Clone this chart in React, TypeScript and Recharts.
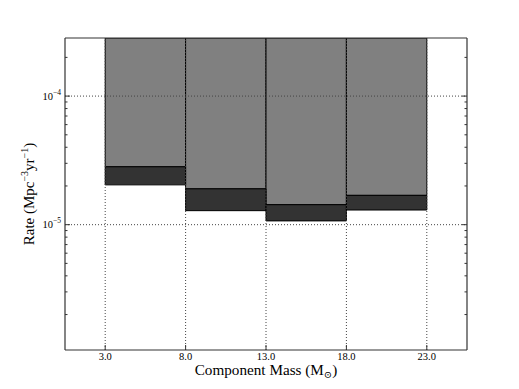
import React from 'react';
import { ComposedChart, XAxis, YAxis, ReferenceArea, ReferenceLine } from 'recharts';

// Bin edges (component mass, solar masses)
const binEdges = [3, 8, 13, 18, 23];
// Rate upper-limit bands: gray band lower boundary and dark band lower boundary (Mpc^-3 yr^-1)
const grayLower = [2.82e-5, 1.9e-5, 1.43e-5, 1.69e-5];
const darkLower = [2.04e-5, 1.285e-5, 1.07e-5, 1.3e-5];

const xTicks = [3, 8, 13, 18, 23];
const yMajorTicks = [1e-5, 1e-4];
const yMinorTicks = [
  2e-6, 3e-6, 4e-6, 5e-6, 6e-6, 7e-6, 8e-6, 9e-6,
  2e-5, 3e-5, 4e-5, 5e-5, 6e-5, 7e-5, 8e-5, 9e-5,
  2e-4,
];
const yDomain = [1.06e-6, 2.83e-4];
const xDomain = [0.5, 25.5];

const FONT = '"Liberation Serif", "DejaVu Serif", serif';
const AX = '#333';

const bins = grayLower.map((g, i) => ({
  lo: binEdges[i],
  hi: binEdges[i + 1],
  gray: g,
  dark: darkLower[i],
  mid: (binEdges[i] + binEdges[i + 1]) / 2,
}));

const yAllTicks = [...yMinorTicks, ...yMajorTicks].sort((a, b) => a - b);
const isMajor = (v: number) => yMajorTicks.some((m) => Math.abs(m - v) / m < 1e-6);

const LeftTick = (props: any) => {
  const { x, y, payload } = props;
  const v = payload.value as number;
  const major = isMajor(v);
  const exp = Math.round(Math.log10(v));
  return (
    <g>
      <line x1={x} x2={x + (major ? 5 : 2.5)} y1={y} y2={y} stroke={AX} strokeWidth={1} />
      {major && (
        <text x={x - 4} y={y + 3.5} textAnchor="end" fontFamily={FONT} fontSize={10.5} fill="#000">
          <tspan>10</tspan>
          <tspan dy={-5} fontSize={7.5}>{`\u2212${Math.abs(exp)}`}</tspan>
        </text>
      )}
    </g>
  );
};

const RightTick = (props: any) => {
  const { x, y, payload } = props;
  const v = payload.value as number;
  const major = isMajor(v);
  return <line x1={x} x2={x - (major ? 5 : 2.5)} y1={y} y2={y} stroke={AX} strokeWidth={1} />;
};

const BottomTick = (props: any) => {
  const { x, y, payload } = props;
  return (
    <g>
      <line x1={x} x2={x} y1={y} y2={y - 5} stroke={AX} strokeWidth={1} />
      <text x={x} y={y + 9.5} textAnchor="middle" fontFamily={FONT} fontSize={10.5} fill="#000">
        {Number(payload.value).toFixed(1)}
      </text>
    </g>
  );
};

const XLabel = (props: any) => {
  const { x, y, width } = props.viewBox;
  return (
    <text x={x + width / 2} y={y + 25} textAnchor="middle" fontFamily={FONT} fontSize={15.2} fill="#000">
      <tspan>Component Mass (M</tspan>
      <tspan dy={3} fontSize={10}>{'\u2299'}</tspan>
      <tspan dy={-3}>)</tspan>
    </text>
  );
};

const YLabel = (props: any) => {
  const { y, height } = props.viewBox;
  const cx = 34;
  const cy = y + height / 2;
  return (
    <text
      x={cx}
      y={cy}
      textAnchor="middle"
      transform={`rotate(-90, ${cx}, ${cy})`}
      fontFamily={FONT}
      fontSize={15}
      fill="#000"
    >
      <tspan>Rate (Mpc</tspan>
      <tspan dy={-6} fontSize={10}>{'\u22123'}</tspan>
      <tspan dy={6}>yr</tspan>
      <tspan dy={-6} fontSize={10}>{'\u22121'}</tspan>
      <tspan dy={6}>)</tspan>
    </text>
  );
};

export default function App() {
  return (
    <div style={{ position: 'absolute', left: 0, top: 0, background: '#fff' }}>
      <ComposedChart
        width={519}
        height={389}
        data={bins}
        margin={{ top: 38, right: 51, bottom: 0, left: 0 }}
      >
        <XAxis
          xAxisId="x"
          dataKey="mid"
          type="number"
          domain={xDomain}
          allowDataOverflow
          ticks={xTicks}
          interval={0}
          tickSize={0}
          tickMargin={0}
          tickLine={false}
          tick={<BottomTick />}
          height={39}
          axisLine={{ stroke: AX, strokeWidth: 1.2 }}
          label={<XLabel />}
        />
        <XAxis
          xAxisId="top"
          orientation="top"
          type="number"
          domain={xDomain}
          allowDataOverflow
          height={1}
          ticks={xTicks}
          tick={false}
          tickLine={false}
          mirror
          axisLine={{ stroke: AX, strokeWidth: 1.2 }}
        />
        <YAxis
          yAxisId="y"
          type="number"
          scale="log"
          domain={yDomain}
          allowDataOverflow
          ticks={yAllTicks}
          interval={0}
          width={65}
          tickSize={0}
          tickMargin={0}
          tickLine={false}
          tick={<LeftTick />}
          axisLine={{ stroke: AX, strokeWidth: 1.2 }}
          label={<YLabel />}
        />
        <YAxis
          yAxisId="right"
          orientation="right"
          type="number"
          scale="log"
          domain={yDomain}
          allowDataOverflow
          ticks={yAllTicks}
          interval={0}
          width={1}
          tickSize={0}
          tickMargin={0}
          tickLine={false}
          tick={<RightTick />}
          axisLine={{ stroke: AX, strokeWidth: 1.2 }}
        />
        {bins.map((b, i) => (
          <ReferenceArea
            key={`g${i}`}
            xAxisId="x"
            yAxisId="y"
            x1={b.lo}
            x2={b.hi}
            y1={b.gray}
            y2={yDomain[1]}
            fill="#808080"
            fillOpacity={1}
            stroke="#000"
            strokeWidth={1}
            ifOverflow="hidden"
          />
        ))}
        {bins.map((b, i) => (
          <ReferenceArea
            key={`d${i}`}
            xAxisId="x"
            yAxisId="y"
            x1={b.lo}
            x2={b.hi}
            y1={b.dark}
            y2={b.gray}
            fill="#333333"
            fillOpacity={1}
            stroke="#000"
            strokeWidth={1}
            ifOverflow="hidden"
          />
        ))}
        {xTicks.map((t) => (
          <ReferenceLine
            key={`vx${t}`}
            xAxisId="x"
            yAxisId="y"
            x={t}
            stroke="#444"
            strokeWidth={1}
            strokeDasharray="1 2"
          />
        ))}
        {yMajorTicks.map((t) => (
          <ReferenceLine
            key={`hy${t}`}
            xAxisId="x"
            yAxisId="y"
            y={t}
            stroke="#444"
            strokeWidth={1}
            strokeDasharray="1 2"
          />
        ))}
      </ComposedChart>
    </div>
  );
}
